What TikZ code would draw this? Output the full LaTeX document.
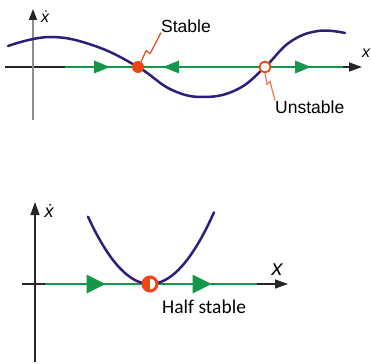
\documentclass[tikz,border=0pt]{standalone}
\usepackage{fontspec}
\setmainfont{Liberation Sans}
\newfontfamily\calibri{Carlito}
\usetikzlibrary{shapes.geometric, arrows.meta, positioning, calc}

\definecolor{curvepurple}{RGB}{45,30,125}
\definecolor{flowgreen}{RGB}{20,150,75}
\definecolor{ptred}{RGB}{235,70,20}
\definecolor{axisgray}{RGB}{140,140,140}

\begin{document}
\begin{tikzpicture}[
    x=1pt, y=-1pt,
    axis/.style={line width=1.4pt, draw=black!85, -{Triangle[length=13pt, width=9pt, color=black!85]}},
    flow/.style={line width=2.6pt, flowgreen},
    curve/.style={line width=2.5pt, curvepurple, line cap=round},
    stablept/.style={circle, fill=ptred, inner sep=0pt, minimum size=12pt},
    unstablept/.style={circle, draw=ptred, fill=white, line width=1.8pt, inner sep=0pt, minimum size=11pt},
    halfpt/.style={circle, draw=ptred, fill=white, line width=3pt, inner sep=0pt, minimum size=14pt,
      path picture={\fill[ptred] (path picture bounding box.north) rectangle (path picture bounding box.south west);}},
    leader/.style={ptred, line width=1.2pt},
    lbl/.style={font=\fontsize{17.5}{20}\selectfont, inner sep=0pt},
    vlbl/.style={font=\fontsize{16}{18}\selectfont\itshape, inner sep=0pt}
  ]
  \useasboundingbox (0,0) rectangle (371,363);

  % top panel: two fixed points
  \draw[axis] (5,67) -- (362,67);
  \draw[flow] (65,67) -- (343,67);
  \draw[axis, draw=axisgray, -{Triangle[length=11pt, width=8pt, color=black!85]}] (33,120) -- (33,9);
  \node[vlbl] (dx1) at (45,17) {ẋ};
  \node[vlbl] (x1) at (366,53) {x};
  \draw[curve] plot[smooth, tension=0.7] coordinates {(8,46) (50,37) (95,46) (138,67) (172,90) (205,97) (238,89) (265,67) (290,42) (318,31) (345,33)};

  % flow direction heads
  \foreach \a/\d in {102/1, 171/-1, 303/1}
    \fill[flowgreen] (\a-8*\d,60.5) -- (\a+8*\d,67) -- (\a-8*\d,73.5) -- cycle;

  \node[stablept] (st) at (138,67) {};
  \node[unstablept] (un) at (265,67) {};
  \node[lbl, anchor=west] (stl) at (161,26) {Stable};
  \node[lbl, anchor=west] (unl) at (275,107) {Unstable};
  \draw[leader] (st.60) -- ++(5,-11) -- ++(4,3) -- (stl.south west);
  \draw[leader, ptred!75] (un.south) -- ++(2,11) -- ++(3,-3) -- (unl.north west);

  % bottom panel: half-stable point
  \draw[axis] (22,284) -- (288,284);
  \draw[flow] (45,284) -- (257,284);
  \draw[axis] (35,362) -- (35,202);
  \node[vlbl, font=\fontsize{18}{20}\selectfont\itshape] (dx2) at (49,211) {ẋ};
  \node[vlbl, font=\fontsize{22}{24}\selectfont\itshape] (x2) at (277,270) {x};
  \draw[curve] plot[domain=-62:64, samples=40] ({150+\x}, {284-0.0175*\x*\x});

  \foreach \a in {96,202}
    \fill[flowgreen] (\a-9.5,274.5) -- (\a+9.5,284) -- (\a-9.5,293.5) -- cycle;

  \node[halfpt] (hs) at (150,284) {};
  \node[font=\calibri\fontsize{19.5}{22}\selectfont, anchor=west, inner sep=0pt] (hsl) at (162,307) {Half stable};
\end{tikzpicture}
\end{document}
